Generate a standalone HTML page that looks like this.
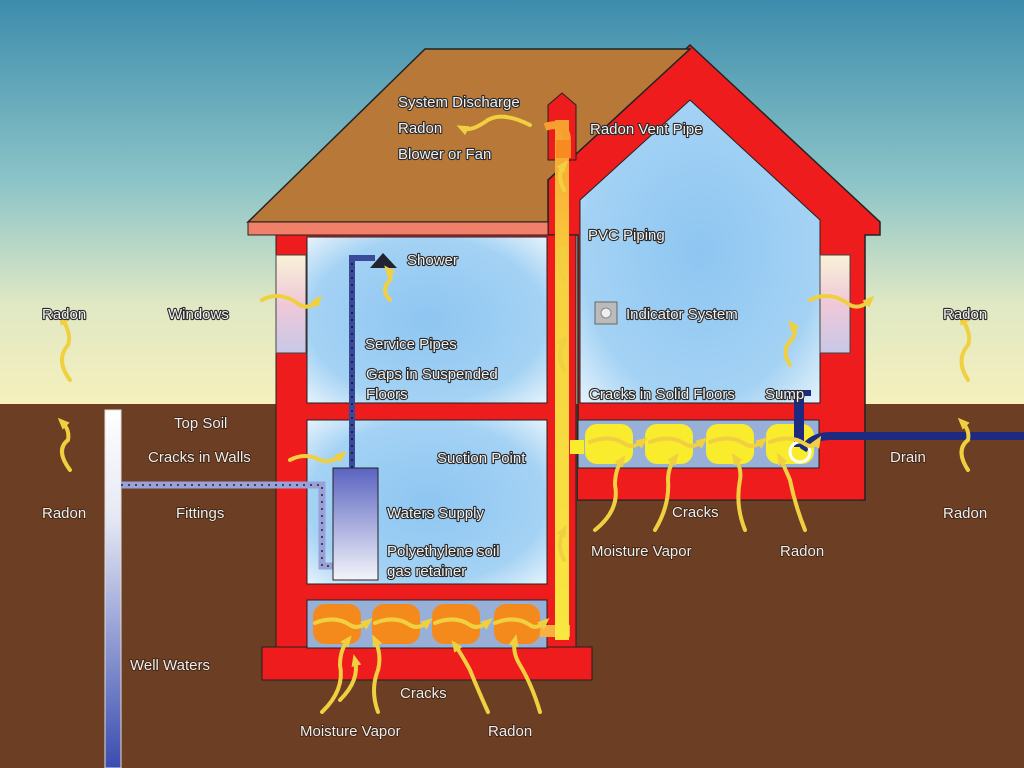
<!DOCTYPE html>
<html><head><meta charset="utf-8"><style>
html,body{margin:0;padding:0;width:1024px;height:768px;overflow:hidden}
svg{display:block}
.t{font-family:"Liberation Sans",sans-serif;font-size:15px;fill:#f0f0f0;stroke:#2a2a2a;stroke-width:2.2px;paint-order:stroke;stroke-linejoin:round}
.g{font-family:"Liberation Sans",sans-serif;font-size:15px;fill:#eee;stroke:#3a2010;stroke-width:1.5px;paint-order:stroke}
.ar{fill:none;stroke:#f0d040;stroke-width:4;stroke-linecap:round}
</style></head><body>
<svg width="1024" height="768" viewBox="0 0 1024 768" xmlns="http://www.w3.org/2000/svg">
<defs>
<linearGradient id="sky" x1="0" y1="0" x2="0" y2="1">
<stop offset="0" stop-color="#3d8cac"/><stop offset="0.45" stop-color="#8cc4c8"/><stop offset="0.75" stop-color="#dfe8c4"/><stop offset="1" stop-color="#f6f0bc"/></linearGradient>
<radialGradient id="room" cx="0.5" cy="0.5" r="0.7">
<stop offset="0" stop-color="#8ec6f2"/><stop offset="0.7" stop-color="#a4d2f4"/><stop offset="1" stop-color="#e4f2fb"/></radialGradient>
<linearGradient id="pipe" x1="0" y1="0" x2="0" y2="1"><stop offset="0" stop-color="#f7a030"/><stop offset="0.3" stop-color="#f8d040"/><stop offset="1" stop-color="#f8e840"/></linearGradient>
<linearGradient id="well" x1="0" y1="0" x2="0" y2="1"><stop offset="0" stop-color="#ffffff"/><stop offset="0.3" stop-color="#e6e8f4"/><stop offset="1" stop-color="#3a4cb0"/></linearGradient>
<linearGradient id="tank" x1="0" y1="0" x2="0" y2="1"><stop offset="0" stop-color="#5a64c0"/><stop offset="1" stop-color="#f4f4fa"/></linearGradient>
<linearGradient id="win" x1="0" y1="0" x2="0" y2="1"><stop offset="0" stop-color="#f8f2d8"/><stop offset="0.5" stop-color="#f0c8d8"/><stop offset="1" stop-color="#c8c8e8"/></linearGradient>
<marker id="ah" markerUnits="userSpaceOnUse" markerWidth="12" markerHeight="10" refX="6" refY="5" orient="auto"><path d="M0,0 L12,5 L0,10 Z" fill="#f0d040"/></marker>
</defs>
<rect width="1024" height="405" fill="url(#sky)"/>
<rect y="404" width="1024" height="364" fill="#6c3e24"/>
<!-- right gable red -->
<polygon points="690,45 880,222 880,235 865,235 865,500 578,500 578,235 548,235 548,180" fill="#ee1c1c" stroke="#222" stroke-width="1.5"/>
<!-- roof -->
<polygon points="248,222 425,49 690,49 548,180 548,222" fill="#b87838" stroke="#222" stroke-width="1.5"/>
<rect x="248" y="222" width="300" height="13" fill="#f0806a" stroke="#222"/>
<!-- left walls -->
<rect x="276" y="235" width="300" height="413" fill="#ee1c1c" stroke="#222"/>
<rect x="262" y="647" width="330" height="33" fill="#ee1c1c" stroke="#222"/>
<rect x="578" y="468" width="285" height="32" fill="#ee1c1c"/>
<line x1="578" y1="500" x2="863" y2="500" stroke="#222"/>
<!-- rooms -->
<rect x="307" y="237" width="240" height="166" fill="url(#room)" stroke="#222"/>
<rect x="307" y="420" width="240" height="164" fill="url(#room)" stroke="#222"/>
<rect x="307" y="600" width="240" height="48" fill="#98b0d8" stroke="#222"/>
<polygon points="690,100 820,220 820,403 580,403 580,200" fill="url(#room)" stroke="#222"/>
<rect x="578" y="420" width="241" height="48" fill="#98b0d8" stroke="#222"/>
<!-- blobs -->
<g fill="#f58a1c"><rect x="313" y="604" width="48" height="40" rx="12"/><rect x="372" y="604" width="48" height="40" rx="12"/><rect x="432" y="604" width="48" height="40" rx="12"/><rect x="494" y="604" width="46" height="40" rx="12"/></g>
<g fill="#f8ec2c"><rect x="585" y="424" width="48" height="40" rx="12"/><rect x="645" y="424" width="48" height="40" rx="12"/><rect x="706" y="424" width="48" height="40" rx="12"/><rect x="766" y="424" width="48" height="40" rx="12"/></g>
<rect x="540" y="625" width="30" height="12" fill="#f8b040"/>
<rect x="570" y="440" width="14" height="14" fill="#f8ec2c"/>
<!-- windows -->
<rect x="276" y="255" width="30" height="98" fill="url(#win)" stroke="#444"/>
<rect x="820" y="255" width="30" height="98" fill="url(#win)" stroke="#444"/>
<!-- vent pipe -->
<polygon points="548,105 562,93 576,105 576,160 548,160" fill="#ee1c1c" stroke="#222"/>
<rect x="555" y="120" width="14" height="520" fill="url(#pipe)"/>
<path d="M545,127 Q566,120 567,140" stroke="#f7a030" stroke-width="8" fill="none"/>
<rect x="556" y="140" width="15" height="18" fill="#f78a20"/>
<!-- well and water pipes -->
<rect x="105" y="410" width="16" height="358" fill="url(#well)" stroke="#ddd"/>
<path d="M121,485 H322 V566 H334" stroke="#9aa0d8" stroke-width="7" fill="none"/>
<path d="M121,485 H322 V566 H334" stroke="#223" stroke-width="1.5" stroke-dasharray="2 5" fill="none"/>
<rect x="333" y="468" width="45" height="112" fill="url(#tank)" stroke="#222"/>
<path d="M352,468 V258 H375" stroke="#3a4a9a" stroke-width="6" fill="none"/>
<path d="M352,468 V258" stroke="#112" stroke-width="1.5" stroke-dasharray="2 5" fill="none"/>
<polygon points="370,268 383,253 397,268" fill="#223"/>
<!-- drain/sump -->
<rect x="794" y="392" width="10" height="55" fill="#1e2a80"/>
<rect x="787" y="390" width="24" height="6" fill="#1e2a80"/>
<path d="M803,450 Q812,436 830,436 H1024" stroke="#1e2a80" stroke-width="8" fill="none"/>
<circle cx="800" cy="452" r="10" fill="none" stroke="#fff" stroke-width="3"/>
<!-- indicator -->
<rect x="595" y="302" width="22" height="22" fill="#bbb" stroke="#666"/><circle cx="606" cy="313" r="5" fill="#eee" stroke="#888"/>
<!-- arrows -->
<g class="ar" marker-end="url(#ah)">
<path d="M530,125 Q500,110 485,122 Q470,132 462,128"/>
<path d="M70,380 Q55,360 68,345 Q72,335 62,318"/>
<path d="M70,470 Q55,450 68,440 Q70,430 62,422"/>
<path d="M968,380 Q955,360 968,345 Q972,335 962,318"/>
<path d="M968,470 Q955,450 968,440 Q970,430 962,422"/>
<path d="M262,300 Q280,290 300,305 Q310,310 318,300"/>
<path d="M810,300 Q830,290 850,305 Q860,310 870,300"/>
<path d="M390,300 Q380,290 390,280 Q392,275 388,270"/>
<path d="M790,365 Q780,350 793,338 Q797,332 792,325"/>
<path d="M290,460 Q305,452 320,460 Q330,464 342,455"/>
<path d="M315,623 Q335,615 350,625 Q358,630 368,622"/>
<path d="M375,623 Q395,615 410,625 Q418,630 428,622"/>
<path d="M435,623 Q455,615 470,625 Q478,630 488,622"/>
<path d="M495,623 Q515,615 530,625 Q536,630 545,622"/>
<path d="M590,442 Q610,434 625,444 Q633,449 643,441"/>
<path d="M650,442 Q670,434 685,444 Q693,449 703,441"/>
<path d="M710,442 Q730,434 745,444 Q753,449 763,441"/>
<path d="M770,442 Q790,434 805,444 Q813,449 818,441"/>
<path d="M322,712 Q345,690 340,665 Q340,650 348,640"/><path d="M340,700 Q360,680 355,660"/>
<path d="M378,712 Q370,690 378,670 Q382,655 375,640"/>
<path d="M488,712 Q478,690 470,670 Q462,655 455,645"/>
<path d="M540,712 Q532,685 520,665 Q512,652 515,640"/>
<path d="M595,530 Q620,510 615,485 Q615,470 622,460"/>
<path d="M655,530 Q670,505 668,480 Q668,468 675,458"/>
<path d="M745,530 Q735,505 740,480 Q742,468 735,458"/>
<path d="M805,530 Q795,505 790,480 Q785,468 780,458"/>
<path d="M564,190 Q556,175 564,165"/><path d="M564,280 Q556,265 564,250"/><path d="M564,370 Q556,355 564,340"/><path d="M564,560 Q556,545 564,530"/>
</g>
<!-- labels -->
<text class="t" x="398" y="107">System Discharge</text>
<text class="t" x="398" y="133">Radon</text>
<text class="t" x="398" y="159">Blower or Fan</text>
<text class="t" x="590" y="134">Radon Vent Pipe</text>
<text class="t" x="588" y="240">PVC Piping</text>
<text class="t" x="407" y="265">Shower</text>
<text class="t" x="42" y="319">Radon</text>
<text class="t" x="168" y="319">Windows</text>
<text class="t" x="943" y="319">Radon</text>
<text class="t" x="626" y="319">Indicator System</text>
<text class="t" x="365" y="349">Service Pipes</text>
<text class="t" x="366" y="379">Gaps in Suspended</text>
<text class="t" x="366" y="399">Floors</text>
<text class="t" x="589" y="399">Cracks in Solid Floors</text>
<text class="t" x="765" y="399">Sump</text>
<text class="g" x="174" y="428">Top Soil</text>
<text class="g" x="148" y="462">Cracks in Walls</text>
<text class="t" x="437" y="463">Suction Point</text>
<text class="g" x="890" y="462">Drain</text>
<text class="g" x="42" y="518">Radon</text>
<text class="g" x="176" y="518">Fittings</text>
<text class="t" x="387" y="518">Waters Supply</text>
<text class="g" x="672" y="517">Cracks</text>
<text class="g" x="943" y="518">Radon</text>
<text class="t" x="387" y="556">Polyethylene soil</text>
<text class="t" x="387" y="576">gas retainer</text>
<text class="g" x="591" y="556">Moisture Vapor</text>
<text class="g" x="780" y="556">Radon</text>
<text class="g" x="130" y="670">Well Waters</text>
<text class="g" x="400" y="698">Cracks</text>
<text class="g" x="300" y="736">Moisture Vapor</text>
<text class="g" x="488" y="736">Radon</text>
</svg>
</body></html>
